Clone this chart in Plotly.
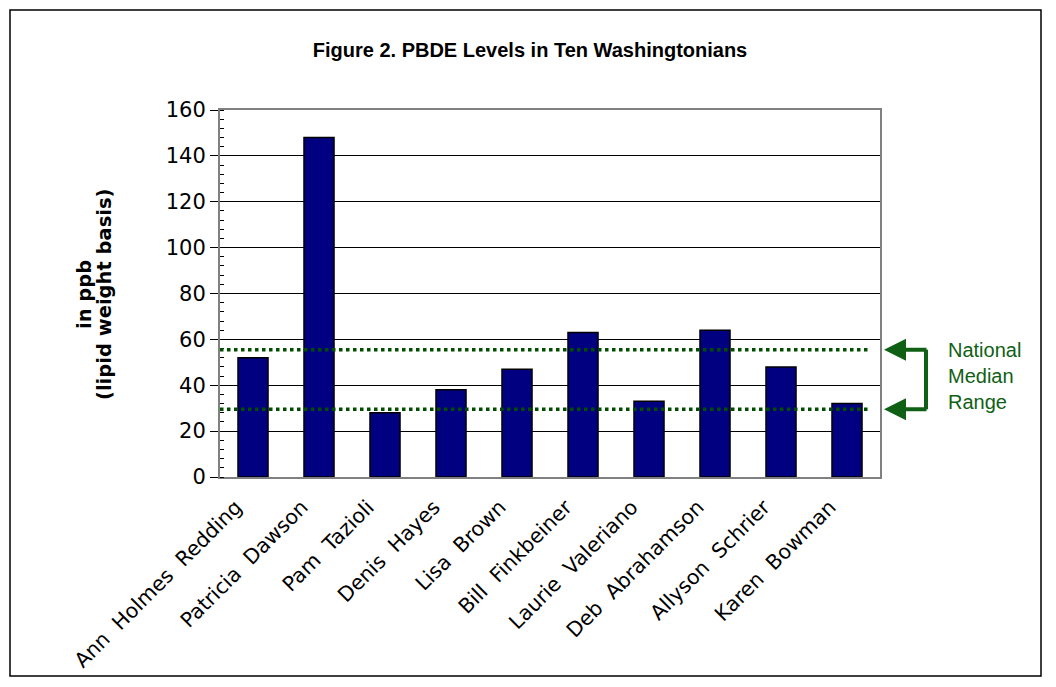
import plotly.graph_objects as go

names = ["Ann\u00a0 Holmes\u00a0 Redding", "Patricia\u00a0 Dawson", "Pam\u00a0 Tazioli", "Denis\u00a0 Hayes",
         "Lisa\u00a0 Brown", "Bill\u00a0 Finkbeiner", "Laurie\u00a0 Valeriano", "Deb\u00a0 Abrahamson",
         "Allyson\u00a0 Schrier", "Karen\u00a0 Bowman"]
pbde_ppb = [52, 148, 28, 38, 47, 63, 33, 64, 48, 32]
median_low = 29.5
median_high = 55.5
y_ticks = [0, 20, 40, 60, 80, 100, 120, 140, 160]
y_title_lines = ["in ppb", "(lipid weight basis)"]

W, H = 1056, 687
OFF = 8  # page offset of the figure inside the browser window
L, R, T, B = 212, 184, 102, 218
pw, ph = W - L - R, H - T - B

def px(x):
    return (x - OFF - L) / pw

def py(y):
    return (H - B - (y - OFF)) / ph

green = "#0f5f14"

fig = go.Figure()
fig.add_trace(go.Bar(
    x=names, y=pbde_ppb,
    marker=dict(color="#000080", line=dict(color="black", width=1.5)),
    hoverinfo="x+y",
))

shapes = []
for v in (median_high, median_low):
    shapes.append(dict(type="line", xref="paper", yref="y", x0=0, x1=px(871), y0=v, y1=v,
                       line=dict(color="#004d00", width=3.5, dash="dot"), layer="above"))
# bracket vertical
shapes.append(dict(type="line", xref="paper", yref="y", x0=px(926), x1=px(926),
                   y0=median_low, y1=median_high, line=dict(color=green, width=4)))
# outer border
shapes.append(dict(type="rect", xref="paper", yref="paper", x0=px(10), x1=px(1041),
                   y0=py(676), y1=py(10), line=dict(color="black", width=1.5)))

annotations = []
for v in (median_high, median_low):
    annotations.append(dict(x=px(884), y=v, xref="paper", yref="y", ax=44, ay=0,
                            showarrow=True, arrowhead=2, arrowsize=1.1, arrowwidth=4,
                            arrowcolor=green, text=""))
annotations.append(dict(x=px(946), y=44, xref="paper", yref="y", xanchor="left", yanchor="middle",
                        showarrow=False, align="left", text="National<br>Median<br>Range",
                        font=dict(family="Liberation Sans, Arial", size=20, color=green)))
for line_text, cx in zip(y_title_lines, (84, 104)):
    annotations.append(dict(x=px(cx), y=py(295), xref="paper", yref="paper", textangle=-90,
                            xanchor="center", yanchor="middle",
                            showarrow=False, text="<b>" + line_text + "</b>",
                            font=dict(family="DejaVu Sans, Verdana", size=19.5, color="black")))

fig.update_layout(
    width=W, height=H,
    margin=dict(l=L, r=R, t=T, b=B, autoexpand=False),
    paper_bgcolor="white", plot_bgcolor="white",
    bargap=0.545,
    showlegend=False,
    title=dict(text="<b>Figure 2. PBDE Levels in Ten Washingtonians</b>", x=(530 - OFF) / W,
               xanchor="center", y=1 - (50 - OFF) / H, yanchor="middle",
               font=dict(family="Liberation Sans, Arial", size=20, color="black")),
    xaxis=dict(showline=True, linecolor="#808080", linewidth=2, mirror=True, showgrid=False,
               tickangle=-45, ticks="", ticklabelshift=-17, ticklabelstandoff=8,
               tickfont=dict(family="DejaVu Sans, Verdana", size=20.5, color="black")),
    yaxis=dict(range=[0, 160], tickvals=y_ticks, showline=True, linecolor="#808080", linewidth=2,
               mirror=True, showgrid=True, gridcolor="black", gridwidth=1, zeroline=False,
               ticks="outside", ticklen=8, tickcolor="black",
               minor=dict(dtick=4, ticks="inside", ticklen=4, tickcolor="black", showgrid=False),
               tickfont=dict(family="DejaVu Sans, Verdana", size=21, color="black")),
    shapes=shapes, annotations=annotations,
)

fig.write_html("out.html")
